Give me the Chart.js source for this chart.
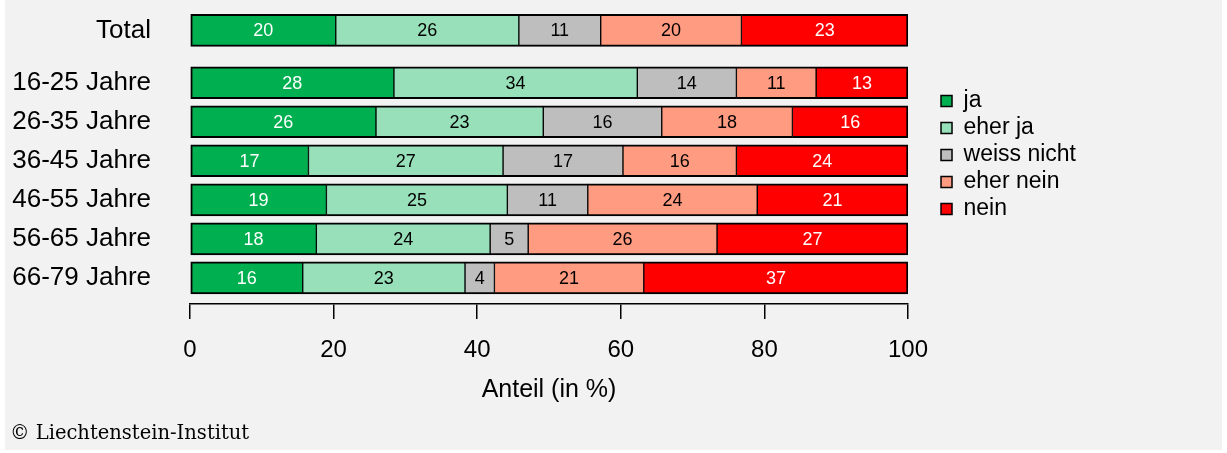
<!DOCTYPE html>
<html>
<head>
<meta charset="utf-8">
<script src="https://cdn.jsdelivr.net/npm/chart.js@4/dist/chart.umd.min.js"></script>
<style>
  html, body { margin: 0; padding: 0; background: #ffffff; }
  canvas { display: block; }
</style>
</head>
<body>
<canvas id="c" width="1227" height="453"></canvas>
<script>
// ---- Data ----
const categories = ['Total', '16-25 Jahre', '26-35 Jahre', '36-45 Jahre', '46-55 Jahre', '56-65 Jahre', '66-79 Jahre'];
const seriesNames = ['ja', 'eher ja', 'weiss nicht', 'eher nein', 'nein'];

const ja         = [20.3, 28.4, 25.9, 16.5, 19.0, 17.6, 15.7];
const eherJa     = [25.5, 33.9, 23.3, 27.1, 25.2, 24.2, 22.6];
const weissNicht = [11.4, 13.8, 16.5, 16.7, 11.2, 5.3, 4.1];
const eherNein   = [19.6, 11.1, 18.2, 15.8, 23.6, 26.3, 20.8];
const nein       = [23.2, 12.8, 16.1, 23.9, 21.0, 26.6, 36.8];

const jaLabels         = [20, 28, 26, 17, 19, 18, 16];
const eherJaLabels     = [26, 34, 23, 27, 25, 24, 23];
const weissNichtLabels = [11, 14, 16, 17, 11, 5, 4];
const eherNeinLabels   = [20, 11, 18, 16, 24, 26, 21];
const neinLabels       = [23, 13, 16, 24, 21, 27, 37];

const xTicks = [0, 20, 40, 60, 80, 100];

// ---- Styles ----
const colors = ['#00B050', '#97E0BA', '#BEBEBE', '#FF9B80', '#FF0000'];
const labelColors = ['#ffffff', '#000000', '#000000', '#000000', '#ffffff'];
const FONT = "'Liberation Sans', Arial, sans-serif";
Chart.defaults.font.family = FONT;
Chart.defaults.color = '#000';

// Row positions: a gap after the "Total" row
const GAP = 0.34;
const rowPos = categories.map((c, i) => i === 0 ? 0 : i + GAP);

const values = [ja, eherJa, weissNicht, eherNein, nein];
const labels = [jaLabels, eherJaLabels, weissNichtLabels, eherNeinLabels, neinLabels];
const last = values.length - 1;

const datasets = values.map((arr, k) => ({
  label: seriesNames[k],
  data: arr.map((v, i) => ({ x: v, y: rowPos[i] })),
  valueLabels: labels[k],
  labelColor: labelColors[k],
  backgroundColor: colors[k],
  borderColor: '#000',
  borderWidth: { top: 2, bottom: 2, left: k === 0 ? 2 : 1, right: k === last ? 2 : 1 },
  borderSkipped: false,
  barThickness: 32,
  yAxisID: 'y'
}));

const bgPlugin = {
  id: 'bg',
  beforeDraw(chart) {
    const ctx = chart.ctx;
    ctx.save();
    ctx.fillStyle = '#ffffff';
    ctx.fillRect(0, 0, chart.width, chart.height);
    ctx.fillStyle = '#f2f2f2';
    ctx.fillRect(5, 0, 1217, 450);
    ctx.restore();
  },
  afterDraw(chart) {
    const ctx = chart.ctx;
    ctx.save();
    ctx.fillStyle = '#000';
    ctx.font = "19.5px 'DejaVu Serif', serif";
    ctx.textAlign = 'left';
    ctx.textBaseline = 'alphabetic';
    ctx.fillText('\u00A9 Liechtenstein-Institut', 10, 439);
    ctx.restore();
  }
};

const barLabelPlugin = {
  id: 'barLabels',
  afterDatasetsDraw(chart) {
    const ctx = chart.ctx;
    ctx.save();
    ctx.font = '18px ' + FONT;
    ctx.textAlign = 'center';
    ctx.textBaseline = 'middle';
    chart.data.datasets.forEach((ds, k) => {
      const meta = chart.getDatasetMeta(k);
      meta.data.forEach((bar, i) => {
        const p = bar.getProps(['x', 'y', 'base'], true);
        ctx.fillStyle = ds.labelColor;
        ctx.fillText(String(ds.valueLabels[i]), (p.x + p.base) / 2, p.y + 1);
      });
    });
    ctx.restore();
  }
};

new Chart(document.getElementById('c'), {
  type: 'bar',
  data: { datasets },
  plugins: [bgPlugin, barLabelPlugin],
  options: {
    indexAxis: 'y',
    responsive: false,
    animation: false,
    layout: { padding: { left: 12, right: 141, top: 0, bottom: 0 } },
    scales: {
      x: {
        type: 'linear', min: 0, max: 100, stacked: true, position: 'bottom',
        afterBuildTicks: s => { s.ticks = xTicks.map(v => ({ value: v })); },
        ticks: { color: '#000', font: { size: 24 }, padding: 17, maxRotation: 0 },
        grid: { drawOnChartArea: false, drawTicks: true, tickLength: 15, color: '#000', lineWidth: 1.5 },
        border: { display: true, color: '#000', width: 1.5 },
        title: { display: true, text: 'Anteil (in %)', color: '#000', font: { size: 25 }, padding: { top: 0, bottom: 48 } },
        afterFit: s => { s.height = 149; }
      },
      y: {
        type: 'linear', reverse: true, min: -0.78, max: 7.01, stacked: true, position: 'left', offset: false,
        afterBuildTicks: s => { s.ticks = rowPos.map(v => ({ value: v })); },
        ticks: {
          autoSkip: false, color: '#000', font: { size: 26 }, padding: 39,
          callback: v => categories[rowPos.indexOf(v)]
        },
        grid: { display: false, drawTicks: false },
        border: { display: false },
        afterFit: s => { s.width = 178; s.paddingTop = 0; s.paddingBottom = 0; }
      },
      y2: {
        type: 'linear', position: 'right', display: true, offset: false,
        grid: { display: false, drawTicks: false },
        border: { display: false },
        ticks: { display: false },
        afterFit: s => { s.width = 29; s.paddingTop = 0; s.paddingBottom = 0; }
      }
    },
    plugins: {
      tooltip: { enabled: false },
      title: { display: false },
      legend: {
        position: 'right', align: 'center', fullSize: false,
        title: { display: true, text: ' ', font: { size: 5 }, padding: 0 },
        labels: {
          boxWidth: 11, boxHeight: 11, padding: 4, color: '#000', font: { size: 23 },
          generateLabels: chart => chart.data.datasets.map((ds, k) => ({
            text: ds.label,
            fillStyle: ds.backgroundColor,
            strokeStyle: '#000',
            lineWidth: 1.5,
            hidden: false,
            datasetIndex: k,
            fontColor: '#000'
          }))
        }
      }
    }
  }
});
</script>
</body>
</html>
